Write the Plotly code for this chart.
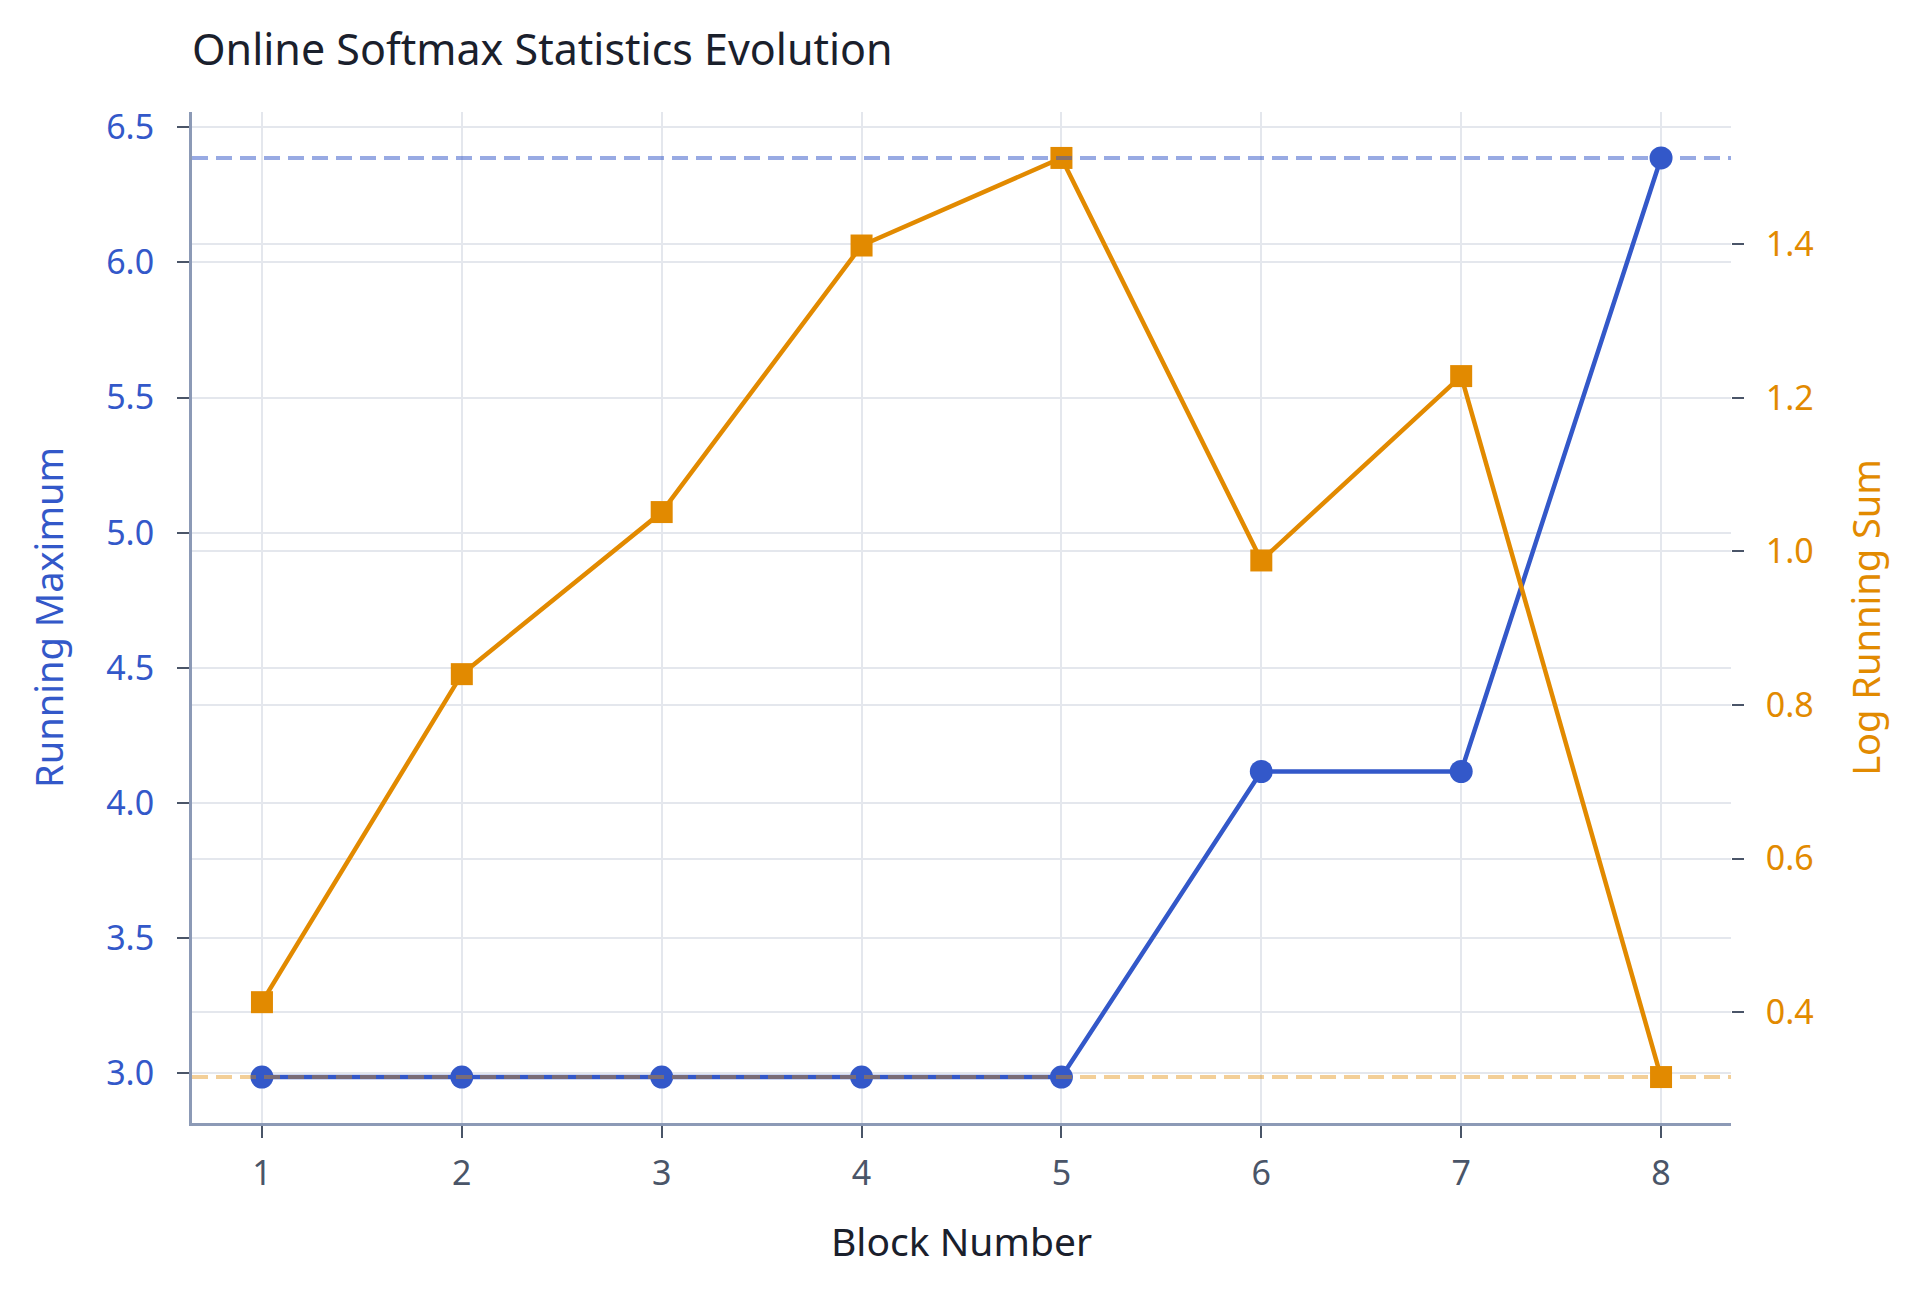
import plotly.graph_objects as go

blocks = [1, 2, 3, 4, 5, 6, 7, 8]
running_max = [2.985, 2.985, 2.985, 2.985, 2.985, 4.116, 4.116, 6.387]
log_running_sum = [0.413, 0.840, 1.051, 1.398, 1.512, 0.988, 1.228, 0.3155]

left_ticks = [3.0, 3.5, 4.0, 4.5, 5.0, 5.5, 6.0, 6.5]
right_ticks = [0.4, 0.6, 0.8, 1.0, 1.2, 1.4]

BLUE = "#3358c9"
ORANGE = "#e28a00"
FONT = "Noto Sans"

fig = go.Figure()
fig.add_trace(go.Scatter(
    x=blocks, y=running_max, name="Running Maximum", mode="lines+markers",
    line=dict(color=BLUE, width=4.5),
    marker=dict(symbol="circle", size=23, color=BLUE),
    yaxis="y",
))
fig.add_trace(go.Scatter(
    x=blocks, y=log_running_sum, name="Log Running Sum", mode="lines+markers",
    line=dict(color=ORANGE, width=4.5),
    marker=dict(symbol="square", size=22, color=ORANGE),
    yaxis="y2",
))

# reference lines at final values
fig.add_shape(type="line", xref="paper", x0=0, x1=1, yref="y",
              y0=running_max[-1], y1=running_max[-1],
              line=dict(color=BLUE, width=4, dash="16px,8px"), opacity=0.5, layer="above")
fig.add_shape(type="line", xref="paper", x0=0, x1=1, yref="y2",
              y0=log_running_sum[-1], y1=log_running_sum[-1],
              line=dict(color=ORANGE, width=4, dash="16px,8px"), opacity=0.4, layer="above")

grid = "#e4e7ed"
fig.update_layout(
    width=1904, height=1276,
    margin=dict(l=184, r=181, t=104, b=161),
    paper_bgcolor="white", plot_bgcolor="white",
    showlegend=False,
    font=dict(family=FONT, size=34, color="#4a5568"),
    title=dict(text="Online Softmax Statistics Evolution", x=0, xref="paper", xanchor="left",
               y=0.9671, yref="container", yanchor="middle",
               font=dict(family=FONT, size=43, color="#1a202c")),
    xaxis=dict(
        title=dict(text="Block Number", font=dict(size=39, color="#1a202c"), standoff=35),
        range=[0.65, 8.35], tickmode="array", tickvals=blocks, ticktext=[str(b) for b in blocks],
        showgrid=True, gridcolor=grid, gridwidth=2,
        showline=True, linecolor="#8c9ab6", linewidth=3,
        ticks="outside", ticklen=12, tickwidth=2, tickcolor="#4a5568",
        ticklabelstandoff=6,
        tickfont=dict(size=34, color="#4a5568"), zeroline=False,
    ),
    yaxis=dict(
        title=dict(text="Running Maximum", font=dict(size=38, color=BLUE), standoff=31),
        range=[2.815, 6.557], tickmode="array", tickvals=left_ticks,
        ticktext=[f"{v:.1f}" for v in left_ticks],
        showgrid=True, gridcolor=grid, gridwidth=2,
        showline=True, linecolor="#8c9ab6", linewidth=3,
        ticks="outside", ticklen=12, tickwidth=2, tickcolor="#4a5568",
        ticklabelstandoff=16,
        tickfont=dict(size=34, color=BLUE), zeroline=False,
    ),
    yaxis2=dict(
        title=dict(text="Log Running Sum", font=dict(size=38, color=ORANGE), standoff=40),
        overlaying="y", side="right",
        range=[0.2557, 1.5718], tickmode="array", tickvals=right_ticks,
        ticktext=[f"{v:.1f}" for v in right_ticks],
        showgrid=True, gridcolor=grid, gridwidth=2,
        showline=False,
        ticks="outside", ticklen=12, tickwidth=2, tickcolor="#4a5568",
        ticklabelstandoff=15,
        tickfont=dict(size=34, color=ORANGE), zeroline=False,
    ),
)

fig.write_html("out.html")
